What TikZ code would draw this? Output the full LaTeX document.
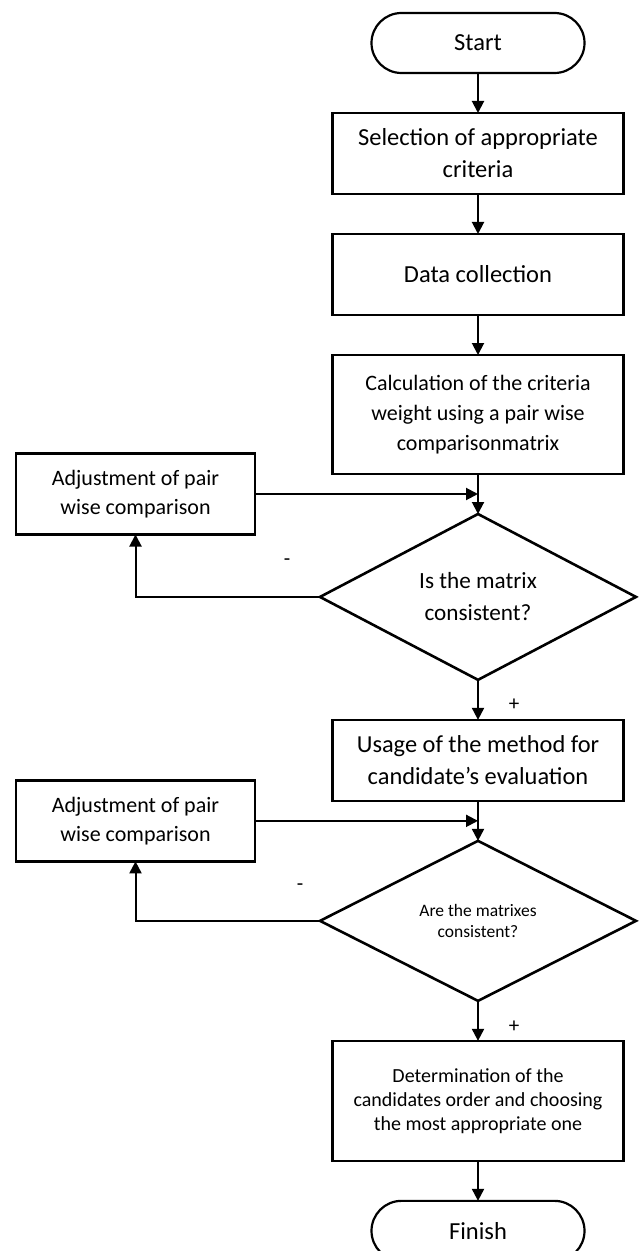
\documentclass[tikz,border=0pt]{standalone}
\usepackage{fontspec}
\setmainfont{Carlito}
\usetikzlibrary{positioning,arrows.meta,shapes.geometric,calc}

\begin{document}
\begin{tikzpicture}[every node/.style={align=center,inner sep=2pt,outer sep=0pt},
    term/.style={draw,line width=1.1pt,rounded corners=15pt,minimum width=106.5pt,minimum height=30pt,font=\fontsize{12.25}{16}\selectfont},
    procbox/.style={draw,line width=1.3pt,minimum width=145.5pt,minimum height=40.5pt,font=\fontsize{12.25}{16}\selectfont},
    adjbox/.style={draw,line width=1.3pt,minimum width=119.5pt,minimum height=40.5pt,font=\fontsize{11}{14.5}\selectfont},
    decision/.style={draw,diamond,line width=1.3pt,minimum width=158pt,minimum height=80pt,inner sep=0pt},
    flow/.style={-{Triangle[length=6pt,width=6pt]},line width=1pt},
    sign/.style={font=\fontsize{10.5}{12}\selectfont,inner sep=0pt},
    node distance=20pt]
  \useasboundingbox (0,0) rectangle (319.5pt,-625.5pt);
  % main column
  \node[term] (start) at (239pt,-21.5pt) {Start};
  \node[procbox,below=of start] (crit) {Selection of appropriate\\criteria};
  \node[procbox,below=of crit] (data) {Data collection};
  \node[procbox,below=of data,minimum height=59.5pt,font=\fontsize{11}{15}\selectfont] (weight)
    {Calculation of the criteria\\weight using a pair wise\\comparisonmatrix};
  \node[decision,below=of weight,font=\fontsize{11.6}{16}\selectfont] (dec1) {Is the matrix\\consistent?};
  \node[procbox,below=of dec1,font=\fontsize{12.2}{16}\selectfont] (usage)
    {Usage of the method for\\candidate’s evaluation};
  \node[decision,below=of usage,font=\fontsize{8.75}{10.5}\selectfont] (dec2) {Are the matrixes\\consistent?};
  \node[procbox,below=of dec2,minimum height=60pt,font=\fontsize{10}{12}\selectfont] (order)
    {Determination of the\\candidates order and choosing\\the most appropriate one};
  \node[term,below=of order] (finish) {Finish};
  % feedback loops
  \coordinate (m1) at ($(weight.south)!0.5!(dec1.north)$);
  \coordinate (m2) at ($(usage.south)!0.5!(dec2.north)$);
  \node[adjbox,left=111.5pt of m1] (adj1) {Adjustment of pair\\wise comparison};
  \node[adjbox,left=111.5pt of m2] (adj2) {Adjustment of pair\\wise comparison};
  \draw[flow] (start) -- (crit);
  \draw[flow] (crit) -- (data);
  \draw[flow] (data) -- (weight);
  \draw[flow] (weight) -- (dec1);
  \draw[flow] (adj1) -- (m1);
  \draw[flow] (dec1.west) -| (adj1.south);
  \draw[flow] (dec1) -- (usage);
  \draw[flow] (usage) -- (dec2);
  \draw[flow] (adj2) -- (m2);
  \draw[flow] (dec2.west) -| (adj2.south);
  \draw[flow] (dec2) -- (order);
  \draw[flow] (order) -- (finish);
  \node[sign] (no1) at ([shift={(-16.5pt,17.5pt)}]dec1.west) {-};
  \node[sign] (yes1) at ([shift={(18pt,-12.5pt)}]dec1.south) {+};
  \node[sign] (no2) at ([shift={(-10pt,17pt)}]dec2.west) {-};
  \node[sign] (yes2) at ([shift={(18pt,-13pt)}]dec2.south) {+};
\end{tikzpicture}
\end{document}
